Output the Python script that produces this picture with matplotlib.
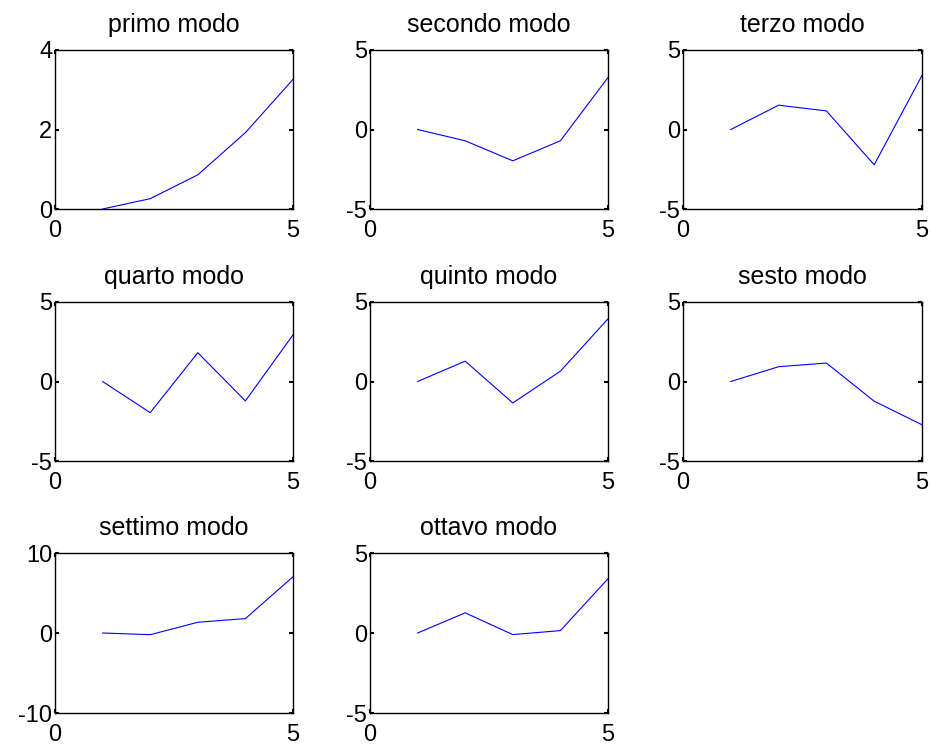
import matplotlib
matplotlib.use("Agg")
import matplotlib.pyplot as plt
import numpy as np

plt.rcParams['font.family'] = ['Liberation Sans', 'DejaVu Sans']
plt.rcParams['axes.unicode_minus'] = False

# nodi 1..5, modi propri
x = [1, 2, 3, 4, 5]
titles = ["primo modo", "secondo modo", "terzo modo", "quarto modo",
          "quinto modo", "sesto modo", "settimo modo", "ottavo modo"]
modo1 = [0, 0.26, 0.86, 1.92, 3.26]
modo2 = [0, -0.71, -1.97, -0.71, 3.27]
modo3 = [0, 1.53, 1.17, -2.22, 3.40]
modo4 = [0, -1.96, 1.81, -1.22, 2.93]
modo5 = [0, 1.28, -1.35, 0.65, 3.94]
modo6 = [0, 0.93, 1.16, -1.24, -2.72]
modo7 = [0, -0.21, 1.34, 1.80, 7.03]
modo8 = [0, 1.26, -0.10, 0.15, 3.39]
modi = [modo1, modo2, modo3, modo4, modo5, modo6, modo7, modo8]
ylims = [(0, 4), (-5, 5), (-5, 5), (-5, 5), (-5, 5), (-5, 5), (-10, 10), (-5, 5)]
yticks = [[0, 2, 4], [-5, 0, 5], [-5, 0, 5], [-5, 0, 5], [-5, 0, 5], [-5, 0, 5],
          [-10, 0, 10], [-5, 0, 5]]

W, H = 931, 748
fig = plt.figure(figsize=(W / 100, H / 100), dpi=100)

# posizioni assi in pixel (sinistra, destra) e (alto, basso)
cols = [(55, 293), (370, 608), (683, 922)]
rows = [(50, 209), (302, 461), (553, 713)]

for k in range(8):
    r, c = divmod(k, 3)
    l, rr = cols[c]
    t, b = rows[r]
    ax = fig.add_axes([l / W, 1 - b / H, (rr - l) / W, (b - t) / H])
    ax.plot(x, modi[k], color='#0000ff', lw=0.8)
    ax.set_xlim(0, 5)
    ax.set_ylim(*ylims[k])
    ax.set_xticks([0, 5])
    ax.set_yticks(yticks[k])
    ax.tick_params(direction='in', length=3, width=1.5, top=True, right=True,
                   labelsize=17)
    ax.tick_params(axis='x', pad=8)
    ax.tick_params(axis='y', pad=2)
    for s in ax.spines.values():
        s.set_linewidth(1.0)
    ax.set_title(titles[k], fontsize=18, pad=13)

fig.savefig("out.png", dpi=100)
